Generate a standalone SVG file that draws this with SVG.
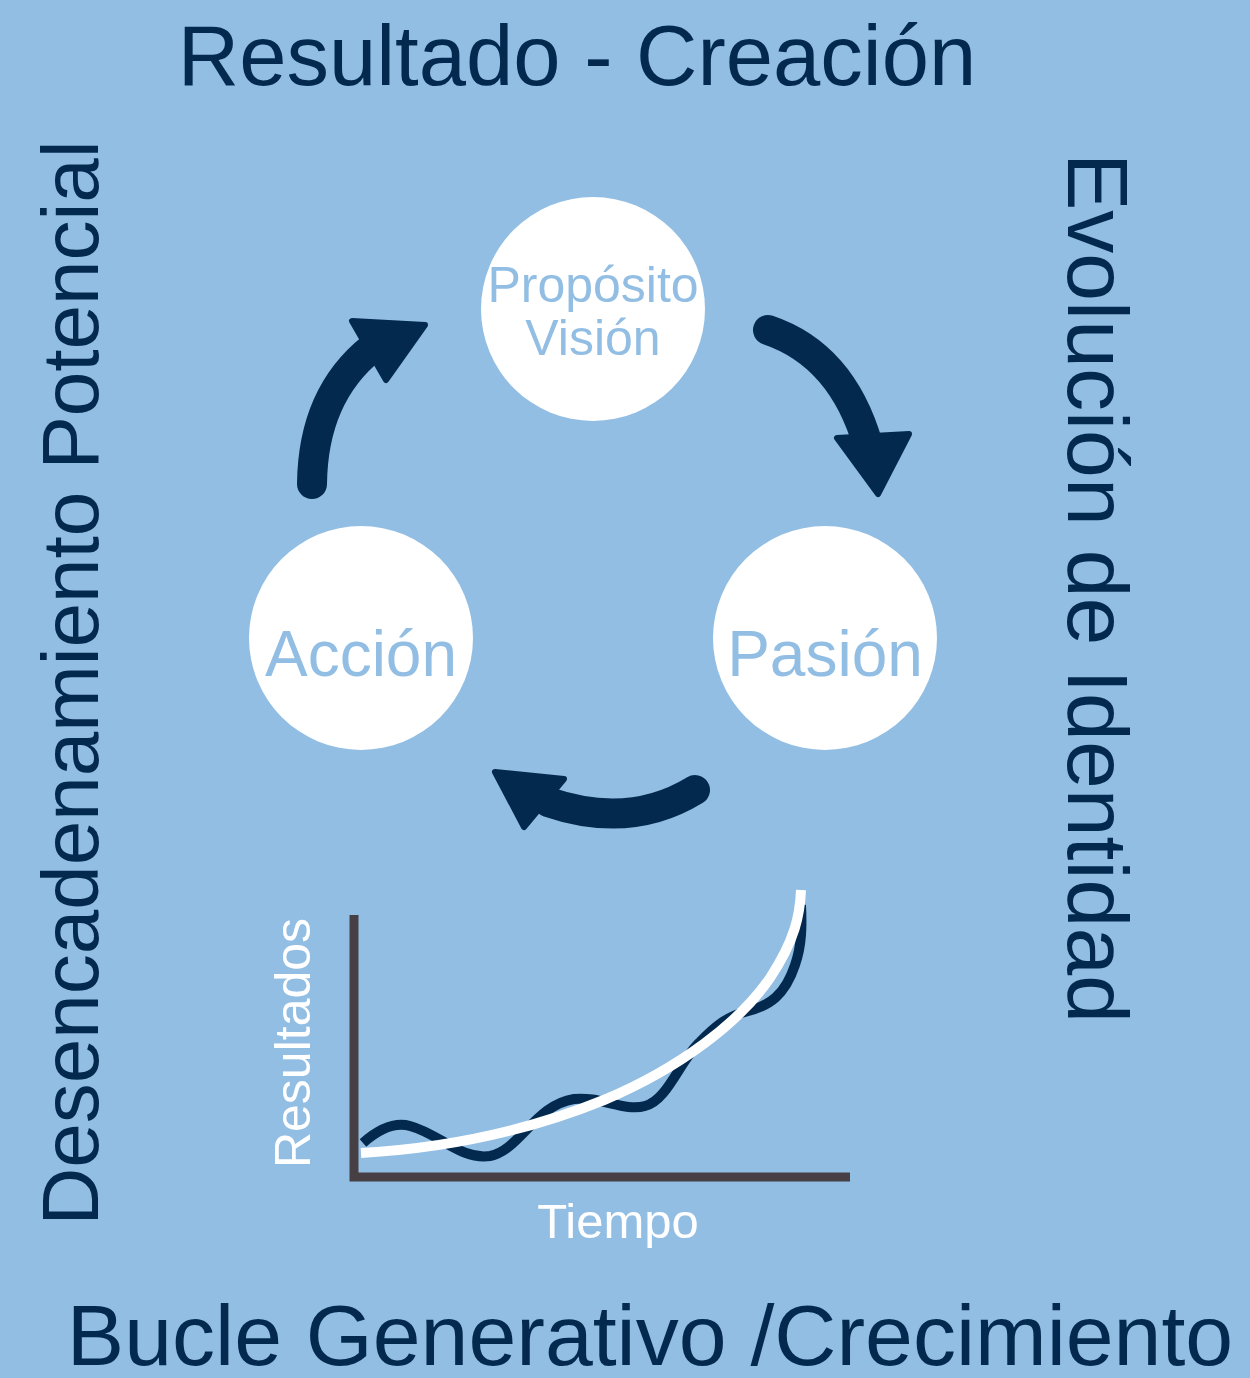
<svg xmlns="http://www.w3.org/2000/svg" width="1250" height="1378" viewBox="0 0 1250 1378">
<style>
.big{font-family:"Liberation Sans",Arial,sans-serif;fill:#032a4e;}
.ctext{font-family:"Liberation Sans",Arial,sans-serif;fill:#92bee4;text-anchor:middle;}
.node circle{fill:#ffffff;}
.shaft{fill:none;stroke:#032a4e;stroke-width:30;stroke-linecap:round;}
.head{fill:#032a4e;stroke:#032a4e;stroke-width:6;stroke-linejoin:round;}
.wht{font-family:"Liberation Sans",Arial,sans-serif;fill:#ffffff;}
</style>
<rect width="1250" height="1378" fill="#92bee4"/>
<text class="big" x="577" y="85" font-size="85" text-anchor="middle">Resultado - Creación</text>
<text class="big" x="650" y="1365" font-size="86" text-anchor="middle">Bucle Generativo /Crecimiento</text>
<text class="big" transform="translate(98,683) rotate(-90)" font-size="80" text-anchor="middle">Desencadenamiento Potencial</text>
<text class="big" transform="translate(1068,588) rotate(90)" font-size="86" text-anchor="middle">Evolución de Identidad</text>
<g id="node-proposito" class="node">
<circle cx="593" cy="309" r="112"/>
<text class="ctext" x="593" y="302" font-size="50">Propósito</text>
<text class="ctext" x="593" y="355" font-size="50">Visión</text>
</g>
<g id="node-accion" class="node">
<circle cx="361" cy="638" r="112"/>
<text class="ctext" x="361" y="676" font-size="64">Acción</text>
</g>
<g id="node-pasion" class="node">
<circle cx="825" cy="638" r="112"/>
<text class="ctext" x="825" y="676" font-size="64">Pasión</text>
</g>
<g id="connectors">
<path class="shaft" d="M312,484 Q313,395 372,348"/>
<polygon class="head" points="352,321 425,325 386,380"/>
<path class="shaft" d="M768,330 Q842,355 868,445"/>
<polygon class="head" points="837,438 909,434 878,494"/>
<path class="shaft" d="M695,790 Q630,830 548,802"/>
<polygon class="head" points="495,772 564,779 524,827"/>
</g>
<g id="chart">
<path d="M354,915 V1177 H850" fill="none" stroke="#463f43" stroke-width="9"/>
<path d="M363,1143 C380,1128 395,1122 410,1126 C440,1134 460,1160 490,1156 C520,1150 535,1105 574,1099 C600,1096 625,1112 645,1106 C668,1100 680,1060 700,1042 C715,1026 728,1016 745,1012 C770,1006 785,995 795,965 C802,945 802,925 801,905" fill="none" stroke="#032a4e" stroke-width="10"/>
<path d="M361,1153 C450,1148 530,1130 604,1100 C680,1068 740,1022 770,978 C795,940 800,915 801,890" fill="none" stroke="#ffffff" stroke-width="10"/>
<text class="wht" transform="translate(310,1043) rotate(-90)" font-size="50" text-anchor="middle">Resultados</text>
<text class="wht" x="618" y="1238" font-size="49" text-anchor="middle">Tiempo</text>
</g>
</svg>
